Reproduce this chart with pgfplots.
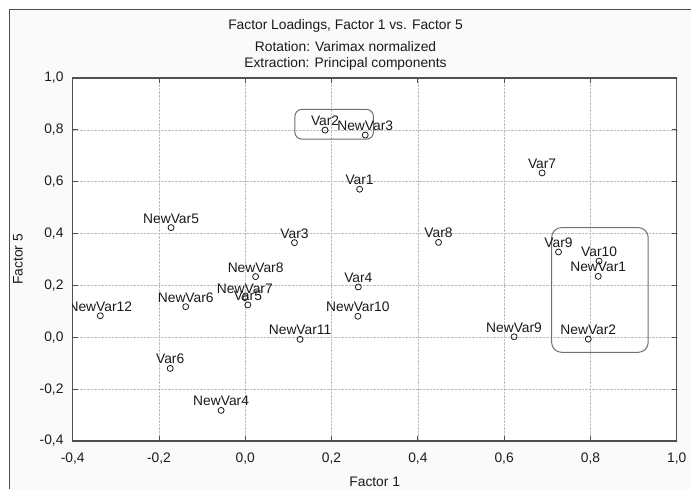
\documentclass[border=0pt]{standalone}
\usepackage{fontspec}
\setmainfont{Liberation Sans}
\usepackage{pgfplots}
\usepackage{pgfplotstable}
\pgfplotsset{compat=1.18}
\definecolor{framec}{HTML}{505050}
\definecolor{bgc}{HTML}{FAFAFA}
\definecolor{txt}{HTML}{1A1A1A}
\definecolor{gridc}{HTML}{BEBEBE}
\definecolor{boxc}{HTML}{707070}
\newcommand\lbl{\fontsize{13.8bp}{16bp}\selectfont}
\pgfplotstableread{
x y label
0.185 0.799 Var2
0.278 0.780 NewVar3
0.265 0.571 Var1
0.688 0.634 Var7
-0.172 0.423 NewVar5
0.114 0.365 Var3
0.448 0.366 Var8
0.726 0.329 Var9
0.820 0.294 Var10
0.818 0.235 NewVar1
0.024 0.234 NewVar8
-0.001 0.153 NewVar7
0.006 0.125 Var5
0.262 0.194 Var4
-0.138 0.118 NewVar6
-0.336 0.083 NewVar12
0.261 0.081 NewVar10
0.127 -0.008 NewVar11
0.623 0.002 NewVar9
0.795 -0.007 NewVar2
-0.174 -0.120 Var6
-0.056 -0.282 NewVar4
}\loadings
\begin{document}
\begin{tikzpicture}[x=1bp,y=1bp]
\useasboundingbox (0,0) rectangle (691,489);
\fill[white] (0,0) rectangle (691,489);
\fill[bgc] (9,0) rectangle (691,479);
\draw[framec, line width=1bp] (9,0) -- (9,479) -- (691,479);
\node[anchor=base, text=txt, font=\lbl] at (345.5,459) {Factor Loadings, Factor 1 vs. Factor 5};
\node[anchor=base, text=txt, font=\lbl] at (345.5,437.5) {Rotation: Varimax normalized};
\node[anchor=base, text=txt, font=\lbl] at (345.5,421) {Extraction: Principal components};
\begin{axis}[
  at={(72.7bp,48bp)}, anchor=south west,
  scale only axis, width=604bp, height=363bp,
  xmin=-0.4, xmax=1.0, ymin=-0.4, ymax=1.0,
  xtick={-0.4,-0.2,0,0.2,0.4,0.6,0.8,1.0},
  ytick={-0.4,-0.2,0,0.2,0.4,0.6,0.8,1.0},
  /pgf/number format/assume math mode=true,
  /pgf/number format/use comma,
  /pgf/number format/fixed,
  /pgf/number format/fixed zerofill,
  /pgf/number format/precision=1,
  tick label style={font=\lbl, text=txt},
  xticklabel style={anchor=north, inner sep=0pt, yshift=-12bp},
  yticklabel style={anchor=east, inner sep=0pt, xshift=-9bp},
  tick align=inside, major tick length=5bp,
  tick style={framec, line width=0.8bp},
  axis background/.style={fill=white},
  axis line style={framec, line width=1.4bp},
  grid=major,
  major grid style={densely dotted, gridc, line width=0.6bp},
  xlabel={Factor 1}, ylabel={Factor 5},
  label style={font=\lbl, text=txt},
  xlabel style={at={(axis description cs:0.5,-0.113)}, anchor=center},
  ylabel style={at={(axis description cs:-0.0906,0.5)}, anchor=center},
  clip marker paths=true,
]
\draw[boxc, line width=1bp, rounded corners=7bp] (axis cs:0.115,0.879) rectangle (axis cs:0.297,0.764);
\draw[boxc, line width=1bp, rounded corners=10bp] (axis cs:0.710,0.423) rectangle (axis cs:0.934,-0.058);
\addplot[only marks, mark=o, mark size=3bp,
  mark options={draw=txt, fill=white, line width=0.8bp},
  nodes near coords, point meta=explicit symbolic,
  nodes near coords style={anchor=base, yshift=4.5bp, inner sep=0pt, font=\lbl, text=txt}]
  table[x=x, y=y, meta=label] {\loadings};
\end{axis}
\end{tikzpicture}
\end{document}
